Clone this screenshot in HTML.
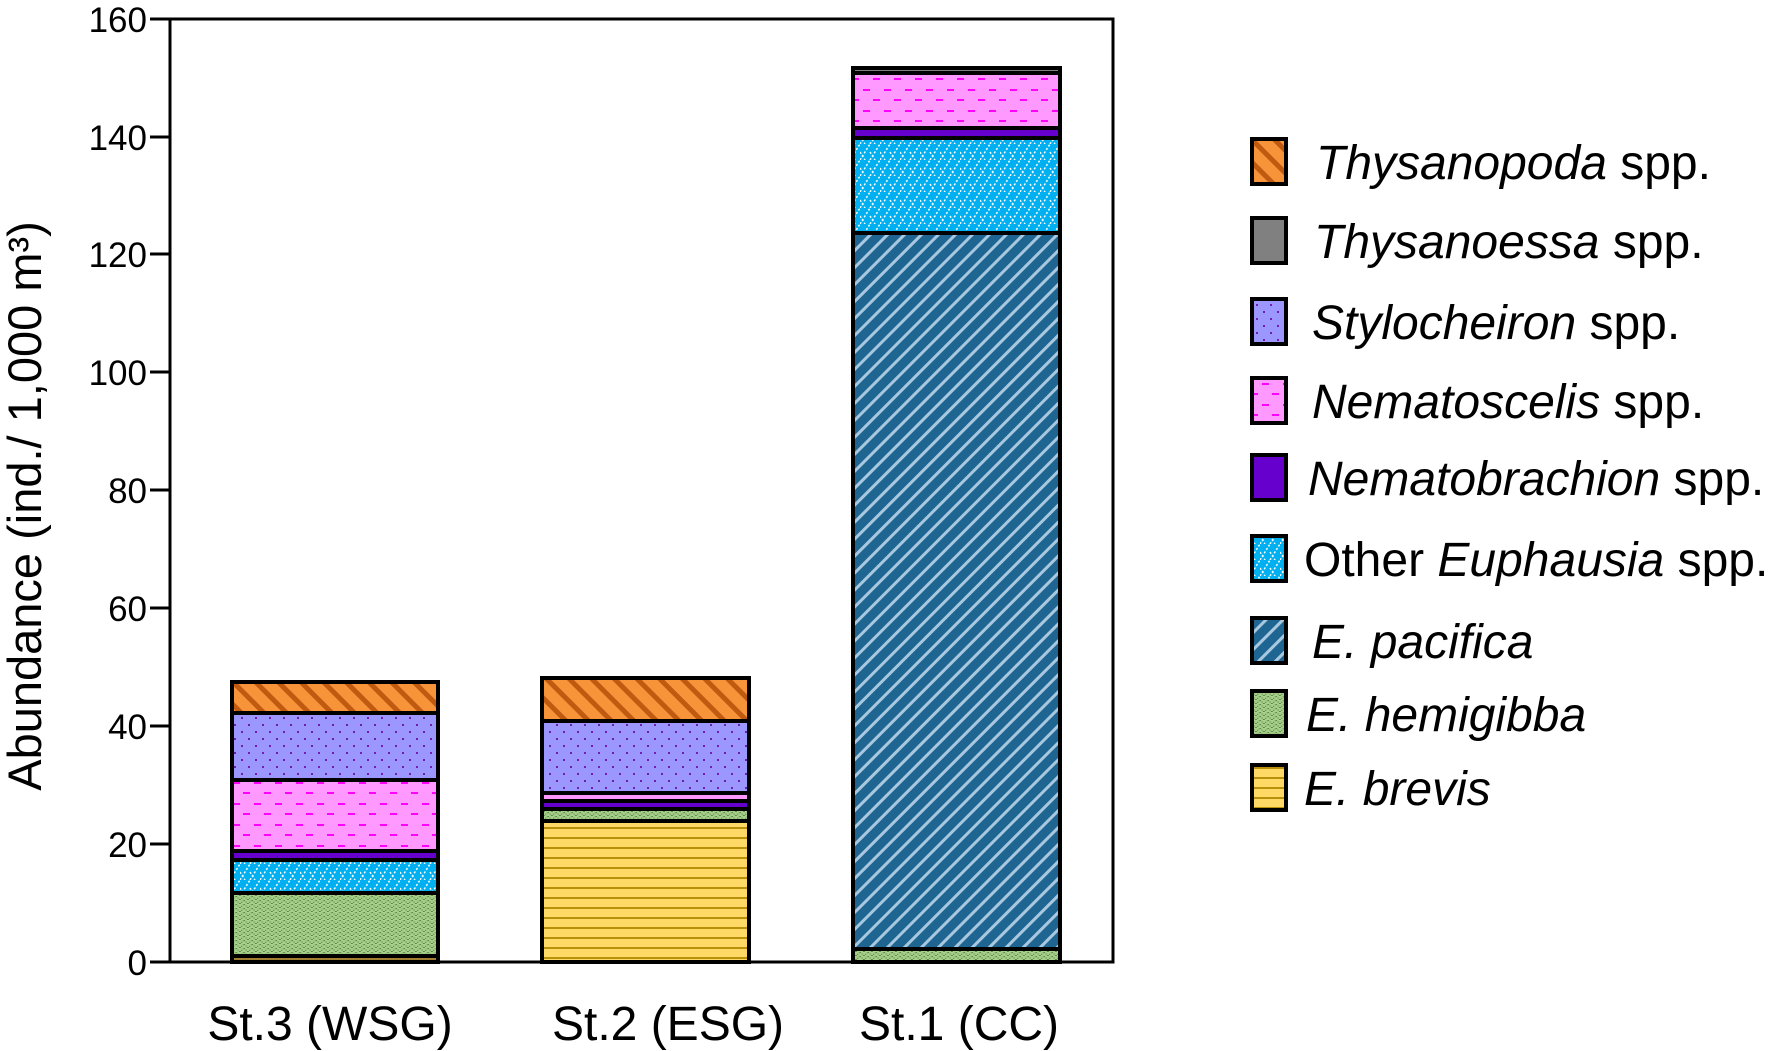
<!DOCTYPE html>
<html><head><meta charset="utf-8"><style>
html,body{margin:0;padding:0;background:#fff}
svg{display:block}
text{font-family:"Liberation Sans",Arial,sans-serif;fill:#000}
</style></head><body>
<svg width="1772" height="1051" viewBox="0 0 1772 1051" xmlns="http://www.w3.org/2000/svg">
<defs>
<pattern id="pOr" width="16" height="16" patternUnits="userSpaceOnUse" patternTransform="rotate(-45)">
<rect width="16" height="16" fill="#f7943a"/><rect width="5" height="16" fill="#c05a10"/></pattern>
<pattern id="pSty" width="14" height="14" patternUnits="userSpaceOnUse">
<rect width="14" height="14" fill="#9b97ff"/><rect x="3" y="3" width="2" height="2" fill="#7020b0"/><rect x="10" y="10" width="2" height="2" fill="#7020b0"/></pattern>
<pattern id="pNem" width="21" height="21" patternUnits="userSpaceOnUse">
<rect width="21" height="21" fill="#ff99ff"/><rect x="2" y="5" width="7" height="2" fill="#ff00ff"/><rect x="12" y="15" width="7" height="2" fill="#ff00ff"/></pattern>
<pattern id="pEu" width="20" height="16" patternUnits="userSpaceOnUse">
<rect width="20" height="16" fill="#00b0f0"/><path d="M0 16 L10 0 M10 16 L20 0 M0 8 L5 16 M10 8 L15 16" stroke="#fff" stroke-width="1.5" stroke-dasharray="2 2" fill="none"/></pattern>
<pattern id="pPac" width="12" height="12" patternUnits="userSpaceOnUse" patternTransform="rotate(45)">
<rect width="12" height="12" fill="#1f6591"/><rect width="3" height="12" fill="#a8c8e0"/></pattern>
<pattern id="pHem" width="8" height="8" patternUnits="userSpaceOnUse">
<rect width="8" height="8" fill="#a8d08d"/><path d="M0 4 L4 0 L8 4 M0 8 L4 4 L8 8" stroke="#4a7a30" stroke-width="1" stroke-dasharray="1 1" fill="none"/></pattern>
<pattern id="pBr" width="10" height="10" patternUnits="userSpaceOnUse">
<rect width="10" height="10" fill="#ffd966"/><rect y="7" width="10" height="2" fill="#b8900a"/></pattern>
</defs>
<g stroke="#000" stroke-width="4">
<rect x="232" y="956" width="206" height="6" fill="#a08030"/>
<rect x="232" y="893" width="206" height="63" fill="url(#pHem)"/>
<rect x="232" y="860" width="206" height="33" fill="url(#pEu)"/>
<rect x="232" y="851" width="206" height="9" fill="#6600cc"/>
<rect x="232" y="780" width="206" height="71" fill="url(#pNem)"/>
<rect x="232" y="713" width="206" height="67" fill="url(#pSty)"/>
<rect x="232" y="682" width="206" height="31" fill="url(#pOr)"/>
<rect x="542" y="821" width="207" height="141" fill="url(#pBr)"/>
<rect x="542" y="809" width="207" height="12" fill="url(#pHem)"/>
<rect x="542" y="801" width="207" height="8" fill="#6600cc"/>
<rect x="542" y="793" width="207" height="8" fill="url(#pNem)"/>
<rect x="542" y="721" width="207" height="72" fill="url(#pSty)"/>
<rect x="542" y="678" width="207" height="43" fill="url(#pOr)"/>
<rect x="853" y="949" width="207" height="13" fill="url(#pHem)"/>
<rect x="853" y="233" width="207" height="716" fill="url(#pPac)"/>
<rect x="853" y="138" width="207" height="95" fill="url(#pEu)"/>
<rect x="853" y="128" width="207" height="10" fill="#6600cc"/>
<rect x="853" y="73" width="207" height="55" fill="url(#pNem)"/>
<rect x="853" y="68" width="207" height="5" fill="#808080"/>
</g>
<rect x="170" y="19" width="943" height="943" fill="none" stroke="#000" stroke-width="3"/>
<g stroke="#000" stroke-width="3">
<line x1="150" y1="962" x2="170" y2="962"/><line x1="150" y1="844" x2="170" y2="844"/>
<line x1="150" y1="726" x2="170" y2="726"/><line x1="150" y1="608" x2="170" y2="608"/>
<line x1="150" y1="490" x2="170" y2="490"/><line x1="150" y1="372" x2="170" y2="372"/>
<line x1="150" y1="254" x2="170" y2="254"/><line x1="150" y1="137" x2="170" y2="137"/>
<line x1="150" y1="19" x2="170" y2="19"/>
</g>
<g font-size="35" text-anchor="end">
<text x="147" y="975">0</text><text x="147" y="857">20</text><text x="147" y="739">40</text>
<text x="147" y="621">60</text><text x="147" y="503">80</text><text x="147" y="385">100</text>
<text x="147" y="267">120</text><text x="147" y="150">140</text><text x="147" y="32">160</text>
</g>
<text transform="translate(41,506) rotate(-90)" font-size="47" text-anchor="middle">Abundance (ind./ 1,000 m³)</text>
<g font-size="48" text-anchor="middle">
<text x="330" y="1040">St.3 (WSG)</text><text x="668" y="1040">St.2 (ESG)</text><text x="959" y="1040">St.1 (CC)</text>
</g>
<g stroke="#000" stroke-width="4">
<rect x="1252" y="139" width="34" height="45" fill="url(#pOr)"/>
<rect x="1252" y="218" width="34" height="45" fill="#808080"/>
<rect x="1252" y="299" width="34" height="45" fill="url(#pSty)"/>
<rect x="1252" y="378" width="34" height="45" fill="url(#pNem)"/>
<rect x="1252" y="455" width="34" height="45" fill="#6600cc"/>
<rect x="1252" y="536" width="34" height="45" fill="url(#pEu)"/>
<rect x="1252" y="618" width="34" height="45" fill="url(#pPac)"/>
<rect x="1252" y="691" width="34" height="45" fill="url(#pHem)"/>
<rect x="1252" y="765" width="34" height="45" fill="url(#pBr)"/>
</g>
<g font-size="48">
<text x="1316" y="179"><tspan font-style="italic">Thysanopoda</tspan> spp.</text>
<text x="1314" y="258"><tspan font-style="italic">Thysanoessa</tspan> spp.</text>
<text x="1312" y="339"><tspan font-style="italic">Stylocheiron</tspan> spp.</text>
<text x="1312" y="418"><tspan font-style="italic">Nematoscelis</tspan> spp.</text>
<text x="1308" y="495"><tspan font-style="italic">Nematobrachion</tspan> spp.</text>
<text x="1304" y="576">Other <tspan font-style="italic">Euphausia</tspan> spp.</text>
<text x="1312" y="658" font-style="italic">E. pacifica</text>
<text x="1306" y="731" font-style="italic">E. hemigibba</text>
<text x="1304" y="805" font-style="italic">E. brevis</text>
</g>
</svg>
</body></html>
